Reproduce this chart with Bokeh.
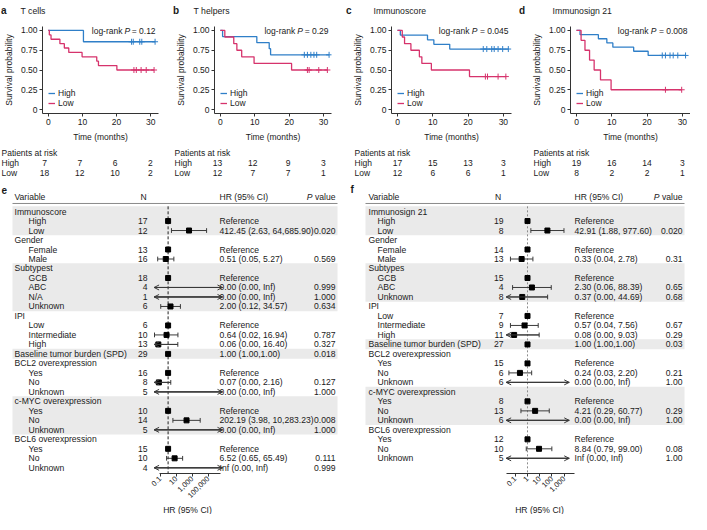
import math
import numpy as np
from bokeh.plotting import figure
from bokeh.models import (Range1d, Label, ColumnDataSource, FixedTicker, Legend,
                          LegendItem, Arrow, OpenHead, PrintfTickFormatter)
from bokeh.layouts import row, column
from bokeh.embed import file_html
from bokeh.resources import INLINE
from bokeh.core.properties import value

NAN = float("nan")
INF = float("inf")
FONT = "Liberation Sans"
BLUE = "#2f7fc8"
RED = "#d6336c"
INK = "#1a1a1a"

# ---------------- Kaplan-Meier data ----------------
km_letters = ["a", "b", "c", "d"]
km_titles = ["T cells", "T helpers", "Immunoscore", "Immunosign 21"]
km_pvals = ["0.12", "0.29", "0.045", "0.008"]
risk_times = [0, 10, 20, 30]

a_high_time = [10.3]
a_high_surv = [0.857]
a_high_cens = [24.4, 24.9, 26.8, 27.4, 31.3]
a_low_time = [0.3, 0.8, 3.4, 4.7, 6.0, 9.9, 14.2, 14.7, 20.1]
a_low_surv = [0.944, 0.889, 0.833, 0.778, 0.722, 0.667, 0.611, 0.556, 0.5]
a_low_cens = [25.1, 25.8, 27.2, 28.7, 31.0]
a_risk_high = [7, 7, 6, 2]
a_risk_low = [18, 12, 10, 2]

b_high_time = [0.65, 10.6, 14.2, 14.6]
b_high_surv = [0.923, 0.846, 0.769, 0.692]
b_high_cens = [24.4, 25.3, 26.3, 27.2, 28.0, 31.6]
b_low_time = [1.3, 3.9, 4.8, 6.2, 9.8, 20.7]
b_low_surv = [0.917, 0.833, 0.75, 0.667, 0.583, 0.5]
b_low_cens = [25.3, 25.8, 28.6, 31.1]
b_risk_high = [13, 12, 9, 3]
b_risk_low = [12, 7, 7, 1]

c_high_time = [0.8, 8.5, 10.3, 14.8]
c_high_surv = [0.941, 0.882, 0.824, 0.765]
c_high_cens = [24.3, 25.3, 26.7, 27.4, 28.5, 29.8, 31.4]
c_low_time = [1.35, 2.0, 3.8, 6.2, 6.9, 9.6, 20.4]
c_low_surv = [0.917, 0.833, 0.75, 0.667, 0.583, 0.5, 0.417]
c_low_cens = [24.9, 25.5, 28.5, 30.7]
c_risk_high = [17, 15, 13, 3]
c_risk_low = [12, 6, 6, 1]

d_high_time = [1.0, 6.2, 8.6, 10.3, 16.2, 20.3]
d_high_surv = [0.947, 0.895, 0.842, 0.789, 0.737, 0.684]
d_high_cens = [24.3, 25.2, 26.5, 27.4, 28.7, 30.9]
d_low_time = [1.3, 2.4, 3.7, 5.0, 6.8, 9.8]
d_low_surv = [0.875, 0.75, 0.625, 0.5, 0.375, 0.25]
d_low_cens = [25.2, 29.8]
d_risk_high = [19, 16, 14, 3]
d_risk_low = [8, 2, 2, 1]

# ---------------- Forest plot data ----------------
e_var = ["Immunoscore", "High", "Low", "Gender", "Female", "Male", "Subtypest", "GCB", "ABC", "N/A",
         "Unknown", "IPI", "Low", "Intermediate", "High", "Baseline tumor burden (SPD)",
         "BCL2 overexpression", "Yes", "No", "Unknown", "c-MYC overexpression", "Yes", "No", "Unknown",
         "BCL6 overexpression", "Yes", "No", "Unknown"]
e_level = [0, 1, 1, 0, 1, 1, 0, 1, 1, 1, 1, 0, 1, 1, 1, 0, 0, 1, 1, 1, 0, 1, 1, 1, 0, 1, 1, 1]
e_n = ["", "17", "12", "", "13", "16", "", "18", "4", "1", "6", "", "6", "10", "13", "29", "",
       "16", "8", "5", "", "10", "14", "5", "", "15", "10", "4"]
e_hr = [NAN, 1, 412.45, NAN, 1, 0.51, NAN, 1, 0.0, 0.0, 2.00, NAN, 1, 0.64, 0.06, 1.00, NAN,
        1, 0.07, 0.0, NAN, 1, 202.19, 0.0, NAN, 1, 6.52, INF]
e_lo = [NAN, 1, 2.63, NAN, 1, 0.05, NAN, 1, 0.0, 0.0, 0.12, NAN, 1, 0.02, 0.0, 1.00, NAN,
        1, 0.0, 0.0, NAN, 1, 3.98, 0.0, NAN, 1, 0.65, 0.0]
e_hi = [NAN, 1, 64685.90, NAN, 1, 5.27, NAN, 1, INF, INF, 34.57, NAN, 1, 16.94, 16.40, 1.00, NAN,
        1, 2.16, INF, NAN, 1, 10283.23, INF, NAN, 1, 65.49, INF]
e_hr_text = ["", "Reference", "412.45 (2.63, 64,685.90)", "", "Reference", "0.51 (0.05, 5.27)", "",
             "Reference", "0.00 (0.00, Inf)", "0.00 (0.00, Inf)", "2.00 (0.12, 34.57)", "",
             "Reference", "0.64 (0.02, 16.94)", "0.06 (0.00, 16.40)", "1.00 (1.00,1.00)", "",
             "Reference", "0.07 (0.00, 2.16)", "0.00 (0.00, Inf)", "", "Reference",
             "202.19 (3.98, 10,283.23)", "0.00 (0.00, Inf)", "", "Reference", "6.52 (0.65, 65.49)",
             "Inf (0.00, Inf)"]
e_p = ["", "", "0.020", "", "", "0.569", "", "", "0.999", "1.000", "0.634", "", "", "0.787", "0.327",
       "0.018", "", "", "0.127", "1.000", "", "", "0.008", "1.000", "", "", "0.111", "0.999"]
e_bands = [(0, 2), (6, 10), (15, 15), (20, 23)]
e_ticks = [0.1, 10, 1000, 100000]
e_tick_labels = ["0.1", "10", "1,000", "100,000"]

f_var = ["Immunosign 21", "High", "Low", "Gender", "Female", "Male", "Subtypes", "GCB", "ABC", "Unknown",
         "IPI", "Low", "Intermediate", "High", "Baseline tumor burden (SPD)", "BCL2 overexpression",
         "Yes", "No", "Unknown", "c-MYC overexpression", "Yes", "No", "Unknown",
         "BCL6 overexpression", "Yes", "No", "Unknown"]
f_level = [0, 1, 1, 0, 1, 1, 0, 1, 1, 1, 0, 1, 1, 1, 0, 0, 1, 1, 1, 0, 1, 1, 1, 0, 1, 1, 1]
f_n = ["", "19", "8", "", "14", "13", "", "15", "4", "8", "", "7", "9", "11", "27", "", "15", "6", "6",
       "", "8", "13", "6", "", "12", "10", "5"]
f_hr = [NAN, 1, 42.91, NAN, 1, 0.33, NAN, 1, 2.30, 0.37, NAN, 1, 0.57, 0.08, 1.00, NAN, 1, 0.24, 0.0,
        NAN, 1, 4.21, 0.0, NAN, 1, 8.84, INF]
f_lo = [NAN, 1, 1.88, NAN, 1, 0.04, NAN, 1, 0.06, 0.0, NAN, 1, 0.04, 0.0, 1.00, NAN, 1, 0.03, 0.0,
        NAN, 1, 0.29, 0.0, NAN, 1, 0.79, 0.0]
f_hi = [NAN, 1, 977.60, NAN, 1, 2.78, NAN, 1, 88.39, 44.69, NAN, 1, 7.56, 9.03, 1.00, NAN, 1, 2.20, INF,
        NAN, 1, 60.77, INF, NAN, 1, 99.00, INF]
f_hr_text = ["", "Reference", "42.91 (1.88, 977.60)", "", "Reference", "0.33 (0.04, 2.78)", "",
             "Reference", "2.30 (0.06, 88.39)", "0.37 (0.00, 44.69)", "", "Reference",
             "0.57 (0.04, 7.56)", "0.08 (0.00, 9.03)", "1.00 (1.00,1.00)", "", "Reference",
             "0.24 (0.03, 2.20)", "0.00 (0.00, Inf)", "", "Reference", "4.21 (0.29, 60.77)",
             "0.00 (0.00, Inf)", "", "Reference", "8.84 (0.79, 99.00)", "Inf (0.00, Inf)"]
f_p = ["", "", "0.020", "", "", "0.31", "", "", "0.65", "0.68", "", "", "0.67", "0.29", "0.03", "",
       "", "0.21", "1.00", "", "", "0.29", "1.00", "", "", "0.08", "1.00"]
f_bands = [(0, 2), (6, 9), (14, 14), (19, 22)]
f_ticks = [0.1, 1, 10, 100, 1000]
f_tick_labels = ["0.1", "1", "10", "100", "1,000"]

# ---------------- helpers ----------------
AW = {ch: 0.556 for ch in "0123456789"}
AW.update({".": .278, " ": .278, "=": .584, "-": .333, "P": .667, "v": .5, "a": .556, "l": .222,
           "u": .556, "e": .556, "o": .556, "g": .556, "r": .333, "n": .556, "k": .5})


def text_w(s, fs):
    return sum(AW.get(ch, .556) for ch in s) * fs


def no_align(p):
    try:
        p.frame_align = False
    except Exception:
        pass
    return p


def style_axis(ax, fs="8.5px"):
    ax.axis_line_color = "#333333"
    ax.major_tick_line_color = "#333333"
    ax.major_tick_out = 3
    ax.major_tick_in = 0
    ax.minor_tick_line_color = None
    ax.major_label_text_font = FONT
    ax.major_label_text_font_size = fs
    ax.major_label_text_color = INK
    ax.major_label_standoff = 2
    ax.axis_label_text_font = FONT
    ax.axis_label_text_font_size = fs
    ax.axis_label_text_font_style = "normal"
    ax.axis_label_text_color = INK
    ax.axis_label_standoff = 4


def blank_fig(width, height, x_range, y_range, x_type="linear"):
    p = figure(width=width, height=height, x_range=x_range, y_range=y_range, x_axis_type=x_type,
               x_axis_location=None, y_axis_location=None, output_backend="svg",
               toolbar_location=None, min_border_left=0, min_border_right=0,
               min_border_top=0, min_border_bottom=0)
    p.outline_line_color = None
    p.xgrid.visible = False
    p.ygrid.visible = False
    return no_align(p)


def put_text(p, xs, ys, texts, align="left", style="normal", size="8.5px"):
    src = ColumnDataSource(dict(x=list(xs), y=list(ys), t=list(texts)))
    p.text(x="x", y="y", text="t", source=src, text_font=value(FONT), text_font_size=value(size),
           text_font_style=style, text_align=align, text_baseline="middle", text_color=INK)


HEAD_H, KM_TOP, FW, FH, KM_BOT, RISK_H = 22, 4, 120, 88, 30, 40
X0, X1, Y0, Y1 = -1.7, 32.3, -0.05, 1.05


def km_panel(letter, title, pval, high, low, risk_h, risk_l, width, left):
    sx = FW / (X1 - X0)

    head = blank_fig(width, HEAD_H, Range1d(0, width), Range1d(HEAD_H, 0))
    put_text(head, [0.5], [10], [letter], style="bold", size="10px")
    put_text(head, [left - 18], [10], [title], size="8.7px")

    p = figure(width=width, height=KM_TOP + FH + KM_BOT, x_range=Range1d(X0, X1),
               y_range=Range1d(Y0, Y1), output_backend="svg", toolbar_location=None,
               min_border_left=left, min_border_right=max(width - left - FW, 0),
               min_border_top=KM_TOP, min_border_bottom=KM_BOT)
    no_align(p)
    p.outline_line_color = None
    p.xgrid.visible = False
    p.ygrid.visible = False

    rends = []
    for (times, surv, cens), col in ((high, BLUE), (low, RED)):
        xs = [0.0] + list(times) + [max(cens)]
        ys = [1.0] + list(surv) + [surv[-1]]
        r = p.step(xs, ys, mode="after", line_color=col, line_width=1.3)
        idx = np.searchsorted(np.array(xs), np.array(cens), side="right") - 1
        p.scatter(cens, [ys[i] for i in idx], marker="cross", size=6, line_color=col, line_width=1)
        rends.append(r)

    p.xaxis.ticker = FixedTicker(ticks=risk_times)
    p.yaxis.ticker = FixedTicker(ticks=[0, 0.25, 0.5, 0.75, 1.0])
    p.yaxis.formatter = PrintfTickFormatter(format="%.2f")
    p.yaxis.major_label_overrides = {0: "0"}
    p.xaxis.axis_label = "Time (months)"
    p.yaxis.axis_label = "Survival probability"
    style_axis(p.xaxis[0])
    style_axis(p.yaxis[0])

    leg = Legend(items=[LegendItem(label="High", renderers=[rends[0]]),
                        LegendItem(label="Low", renderers=[rends[1]])],
                 location=(6, 5), orientation="vertical", background_fill_alpha=0,
                 border_line_alpha=0, label_text_font=FONT, label_text_font_size="8.5px",
                 label_text_color=INK, glyph_width=7, glyph_height=8, label_height=8,
                 spacing=-2, padding=0, margin=0, label_standoff=3)
    p.add_layout(leg)

    fs = 8.5
    sp = text_w(" ", fs)
    right_px = FW - 3
    tail = "= " + pval
    r1 = right_px - text_w(tail, fs) - sp
    r2 = r1 - text_w("P", fs) - sp

    def lab(xpx, text, style="normal"):
        p.add_layout(Label(x=X0 + xpx / sx, y=0.99, text=text, text_align="right",
                           text_baseline="middle", text_font=FONT, text_font_size="8.5px",
                           text_font_style=style, text_color=INK))

    lab(right_px, tail)
    lab(r1, "P", "italic")
    lab(r2, "log-rank")

    risk = blank_fig(width, RISK_H, Range1d(X0 - left / sx, X0 + (width - left) / sx),
                     Range1d(RISK_H, 0))
    xl = X0 - 37 / sx
    put_text(risk, [xl, xl, xl], [8, 18, 28], ["Patients at risk", "High", "Low"])
    put_text(risk, risk_times, [18] * 4, [str(v) for v in risk_h], align="center")
    put_text(risk, risk_times, [28] * 4, [str(v) for v in risk_l], align="center")
    return column(head, p, risk)


F_FH, F_BOT, LAB_H = 289, 30, 11
YB, YT = 27.6, -2.85


def forest(width, letter, var, level, n, hr, lo, hi, hr_text, pv, bands, ticks, tick_labels, cfg):
    c, k = cfg["c"], cfg["k"]

    def X(px):
        return 10 ** ((px - c) / k)

    p = figure(width=width, height=F_FH + F_BOT, x_axis_type="log",
               x_range=Range1d(X(0), X(width)), y_range=Range1d(YB, YT),
               y_axis_location=None, output_backend="svg", toolbar_location=None,
               min_border_left=0, min_border_right=0, min_border_top=0,
               min_border_bottom=F_BOT)
    no_align(p)
    p.outline_line_color = None
    p.xgrid.visible = False
    p.ygrid.visible = False

    bl, br = cfg["band"]
    p.quad(left=[X(bl)] * len(bands), right=[X(br)] * len(bands),
           top=[b[0] - 0.55 for b in bands], bottom=[b[1] + 0.5 for b in bands],
           fill_color="#eaeaea", line_color=None)
    p.segment(x0=[X(bl)], x1=[X(br)], y0=[-0.85], y1=[-0.85], line_color="#8a8a8a", line_width=1)
    p.segment(x0=[1], x1=[1], y0=[-0.55], y1=[YB], line_color=cfg["dash_color"],
              line_dash=cfg["dash"], line_width=1)

    L, R = 10 ** cfg["arrow"][0], 10 ** cfg["arrow"][1]
    wx0, wx1, wy, capx, capy = [], [], [], [], []
    ax_s, ax_e, ay = [], [], []
    ptx, pty = [], []
    for i, (h, l, u) in enumerate(zip(hr, lo, hi)):
        if math.isnan(h):
            continue
        if 0 < h < INF:
            ptx.append(h)
            pty.append(i)
        if l < u:
            a = max(l, L)
            b = min(u, R)
            wx0.append(a)
            wx1.append(b)
            wy.append(i)
            if l >= L:
                capx.append(l)
                capy.append(i)
            else:
                ax_s.append(b)
                ax_e.append(L)
                ay.append(i)
            if u <= R:
                capx.append(u)
                capy.append(i)
            else:
                ax_s.append(a)
                ax_e.append(R)
                ay.append(i)
    wcol = "#3a3a3a"
    p.segment(x0=wx0, x1=wx1, y0=wy, y1=wy, line_color=wcol, line_width=1)
    p.segment(x0=capx, x1=capx, y0=[v - 0.25 for v in capy], y1=[v + 0.25 for v in capy],
              line_color=wcol, line_width=1)
    asrc = ColumnDataSource(dict(xs=ax_s, xe=ax_e, y=ay))
    p.add_layout(Arrow(x_start="xs", y_start="y", x_end="xe", y_end="y", source=asrc,
                       line_color=wcol, line_width=1,
                       end=OpenHead(size=5, line_color=wcol, line_width=1)))
    p.scatter(ptx, pty, marker="square", size=5, fill_color="black", line_color="black")

    rows = list(range(len(var)))
    fs = cfg["fs"]
    fsn = float(fs.replace("px", ""))
    lx = [X(cfg["group_x"]) if lv == 0 else X(cfg["sub_x"]) for lv in level]
    put_text(p, lx, rows, var, size=fs)
    put_text(p, [X(cfg["n_right"])] * len(rows), rows, n, align="right", size=fs)
    put_text(p, [X(cfg["hr_left"])] * len(rows), rows, hr_text, size=fs)
    put_text(p, [X(cfg["p_right"])] * len(rows), rows, pv, align="right", size=fs)

    hy = -1.5
    put_text(p, [X(cfg["group_x"])], [hy], ["Variable"], size=fs)
    put_text(p, [X(cfg["n_hdr"])], [hy], ["N"], align="center", size=fs)
    put_text(p, [X(cfg["hr_left"])], [hy], ["HR (95% CI)"], size=fs)
    put_text(p, [X(cfg["p_right"])], [hy], ["value"], align="right", size=fs)
    put_text(p, [X(cfg["p_right"] - text_w("value", fsn) - text_w(" ", fsn))], [hy], ["P"],
             align="right", style="italic", size=fs)
    put_text(p, [X(cfg["letter_x"])], [-2.3], [letter], style="bold", size="10px")

    ax = p.xaxis[0]
    style_axis(ax, "7.5px")
    ax.major_label_standoff = 1
    ax.ticker = FixedTicker(ticks=ticks)
    ax.major_label_overrides = {t: s for t, s in zip(ticks, tick_labels)}
    ax.major_label_orientation = math.pi / 4
    ax.bounds = (10 ** cfg["bounds"][0], 10 ** cfg["bounds"][1])

    labf = blank_fig(width, LAB_H, Range1d(X(0), X(width)), Range1d(0, LAB_H), x_type="log")
    put_text(labf, [X(cfg["xlab"])], [LAB_H / 2], ["HR (95% CI)"], align="center", size=fs)
    return column(p, labf)


km_data = [
    ((a_high_time, a_high_surv, a_high_cens), (a_low_time, a_low_surv, a_low_cens), a_risk_high, a_risk_low),
    ((b_high_time, b_high_surv, b_high_cens), (b_low_time, b_low_surv, b_low_cens), b_risk_high, b_risk_low),
    ((c_high_time, c_high_surv, c_high_cens), (c_low_time, c_low_surv, c_low_cens), c_risk_high, c_risk_low),
    ((d_high_time, d_high_surv, d_high_cens), (d_low_time, d_low_surv, d_low_cens), d_risk_high, d_risk_low),
]
km_widths = [172, 173, 173, 172]
km_lefts = [38, 39, 46, 52]

kms = []
for i in range(4):
    hi_, lo_, rh, rl = km_data[i]
    kms.append(km_panel(km_letters[i], km_titles[i], km_pvals[i], hi_, lo_, rh, rl,
                        km_widths[i], km_lefts[i]))

e_cfg = dict(c=167.6, k=8.0, group_x=14, sub_x=28, n_right=147, n_hdr=143, hr_left=219,
             p_right=335, band=(12, 337), letter_x=1, arrow=(-1.75, 6.8), bounds=(-1.1, 6.6),
             dash="3 2", dash_color="#222222", xlab=187, fs="8.6px")
f_cfg = dict(c=181.0, k=12.2, group_x=22, sub_x=31, n_right=157, n_hdr=151.5, hr_left=228,
             p_right=336, band=(19, 338), letter_x=4, arrow=(-1.75, 3.42), bounds=(-1.75, 3.85),
             dash="2 2", dash_color="#8c8c8c", xlab=193, fs="8.6px")

pe = forest(346, "e", e_var, e_level, e_n, e_hr, e_lo, e_hi, e_hr_text, e_p, e_bands,
            e_ticks, e_tick_labels, e_cfg)
pf = forest(344, "f", f_var, f_level, f_n, f_hr, f_lo, f_hi, f_hr_text, f_p, f_bands,
            f_ticks, f_tick_labels, f_cfg)

layout = column(row(*kms), row(pe, pf))
open("out.html", "w").write(file_html(layout, INLINE, "Survival analysis"))
